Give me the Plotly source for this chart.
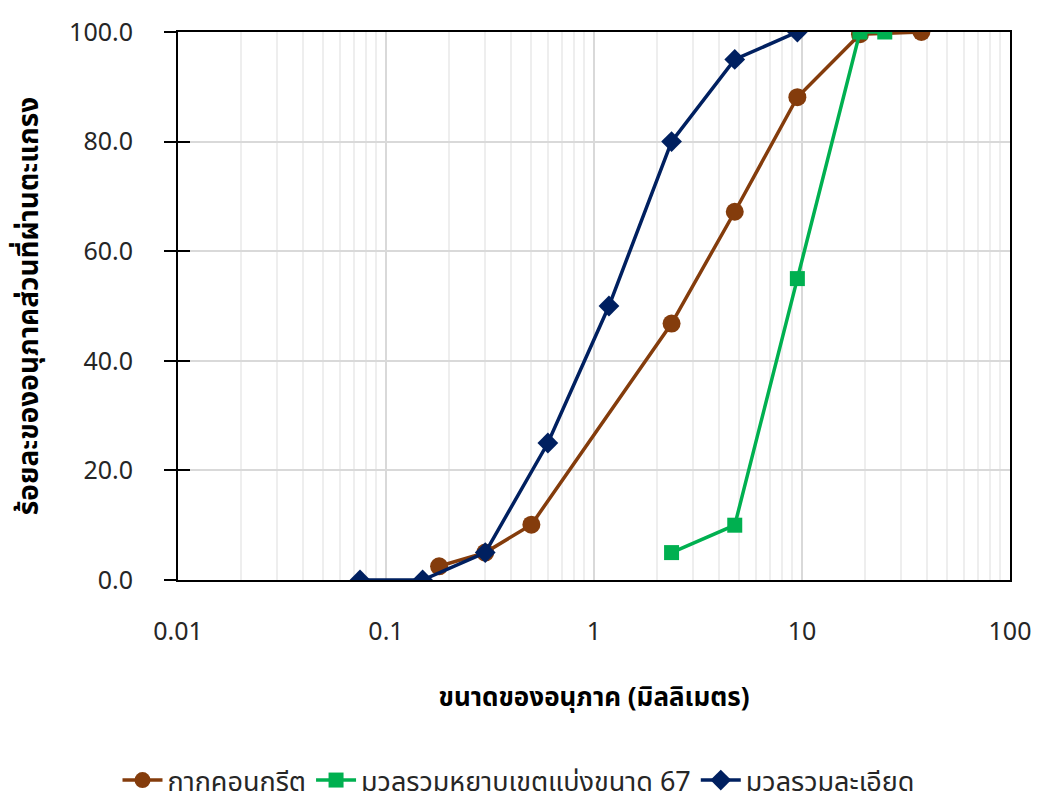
import plotly.graph_objects as go

# Data
concrete_x = [0.18, 0.3, 0.5, 2.36, 4.75, 9.5, 19, 37.5]
concrete_y = [2.5, 5.0, 10.1, 46.8, 67.2, 88.1, 99.6, 100.0]
coarse_x = [2.36, 4.75, 9.5, 19, 25]
coarse_y = [5.0, 10.0, 55.0, 100.0, 100.0]
fine_x = [0.075, 0.15, 0.3, 0.6, 1.18, 2.36, 4.75, 9.5]
fine_y = [0.0, 0.0, 5.0, 25.0, 50.0, 80.0, 95.0, 100.0]

names = ["กากคอนกรีต", "มวลรวมหยาบเขตแบ่งขนาด 67", "มวลรวมละเอียด"]
x_title = "ขนาดของอนุภาค (มิลลิเมตร)"
y_title = "ร้อยละของอนุภาคส่วนที่ผ่านตะแกรง"
y_ticks = [0, 20, 40, 60, 80, 100]

FONT = "Noto Sans Thai, Leelawadee UI, Noto Sans, sans-serif"

fig = go.Figure()
fig.add_trace(go.Scatter(x=concrete_x, y=concrete_y, name=names[0], mode="lines+markers",
                         line=dict(color="#843C0C", width=3.5),
                         marker=dict(symbol="circle", size=18, color="#843C0C")))
fig.add_trace(go.Scatter(x=coarse_x, y=coarse_y, name=names[1], mode="lines+markers",
                         line=dict(color="#00B050", width=3.5),
                         marker=dict(symbol="square", size=15, color="#00B050")))
fig.add_trace(go.Scatter(x=fine_x, y=fine_y, name=names[2], mode="lines+markers",
                         line=dict(color="#002060", width=3.5),
                         marker=dict(symbol="diamond", size=16, color="#002060")))
# helper trace for inner y ticks
fig.add_trace(go.Scatter(x=[None], y=[None], yaxis="y2", showlegend=False, hoverinfo="skip"))

fig.update_layout(
    width=1038, height=805,
    margin=dict(l=178, r=28, t=32, b=225, autoexpand=False),
    paper_bgcolor="white", plot_bgcolor="white",
    font=dict(family=FONT, size=25, color="#262626"),
    xaxis=dict(type="log", range=[-2, 2], dtick=1, tickformat="~g", automargin=False,
               showgrid=True, gridcolor="#d9d9d9", gridwidth=1.5,
               minor=dict(dtick="D1", showgrid=True, gridcolor="#eeeeee", gridwidth=1.5, ticks=""),
               showline=True, linecolor="#000000", linewidth=2, mirror=True,
               ticks="", ticklabelstandoff=28, zeroline=False,
               title=dict(text="<b>" + x_title + "</b>", standoff=38,
                          font=dict(size=26, color="#000000"))),
    yaxis=dict(range=[0, 100], tickvals=y_ticks, tickformat=".1f", automargin=False,
               showgrid=True, gridcolor="#d9d9d9", gridwidth=1.5,
               showline=True, linecolor="#000000", linewidth=2, mirror=True,
               ticks="outside", ticklen=12, tickwidth=2, tickcolor="#000000",
               ticklabelstandoff=26, zeroline=False,
               title=dict(text="<b>" + y_title + "</b>", standoff=22,
                          font=dict(size=28, color="#000000"))),
    yaxis2=dict(overlaying="y", side="left", range=[0, 100], tickvals=y_ticks,
                showticklabels=False, showgrid=False, ticks="inside", ticklen=12,
                tickwidth=2, tickcolor="#000000", zeroline=False),
    legend=dict(orientation="h", xref="container", yref="container", x=0.5, y=0.0,
                xanchor="center", yanchor="bottom", font=dict(size=27, color="#262626"),
                itemwidth=40, traceorder="normal"),
    showlegend=True,
)

fig.write_html("out.html")
